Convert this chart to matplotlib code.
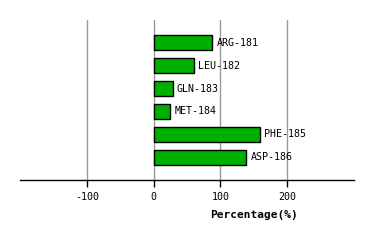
import matplotlib
matplotlib.use('Agg')
import matplotlib.pyplot as plt

residues = ['ARG-181', 'LEU-182', 'GLN-183', 'MET-184', 'PHE-185', 'ASP-186']
percent = [88, 61, 29, 25, 160, 139]
xticks = [-100, 0, 100, 200]

fig = plt.figure(figsize=(3.74, 2.40), dpi=100)
ax = fig.add_axes([20/374, 60/240, 334/374, 160/240])

pos = list(range(1, len(residues) + 1))
ax.barh(pos, percent, height=0.65, color='#00b000', edgecolor='black', linewidth=1, zorder=3)
for p, v, name in zip(pos, percent, residues):
    ax.text(v + 6, p, name, va='center', ha='left', fontsize=7.2, family='DejaVu Sans Mono', zorder=4)

ax.set_xlim(-200, 300)
ax.set_ylim(7, 0)
ax.set_xticks(xticks)
ax.set_xticklabels([str(t) for t in xticks], family='DejaVu Sans Mono', fontsize=7.2)
ax.set_yticks([])
for t in xticks:
    ax.axvline(t, color='#999999', linewidth=1, zorder=1)

for s in ['top', 'left', 'right']:
    ax.spines[s].set_visible(False)
ax.spines['bottom'].set_linewidth(1)
ax.tick_params(axis='x', direction='out', length=5, width=1, pad=4)

ax.set_xlabel('Percentage(%)', family='DejaVu Sans Mono', fontsize=8, fontweight='bold')
ax.xaxis.set_label_coords((254 - 20) / 334, -30 / 160)

fig.savefig('out.png', dpi=100)
